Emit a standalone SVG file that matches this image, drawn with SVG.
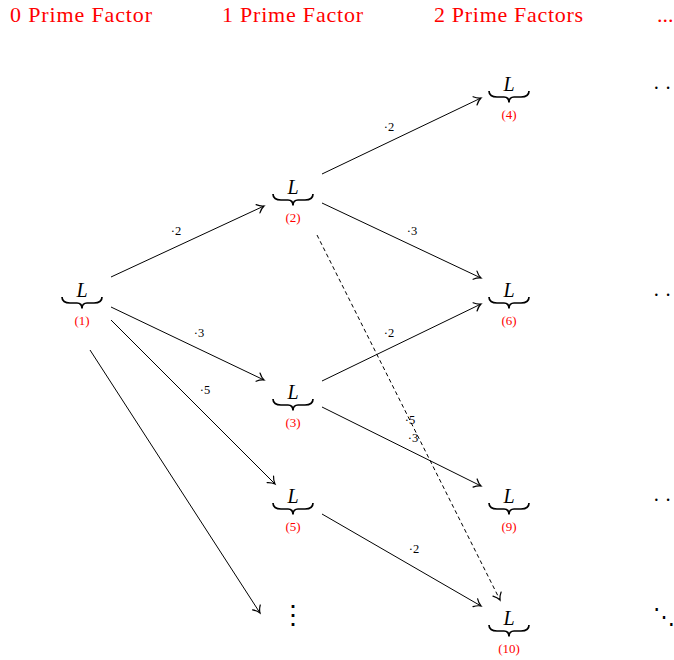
<svg xmlns="http://www.w3.org/2000/svg" width="674" height="660" viewBox="0 0 674 660">
<defs>
<marker id="arr" markerWidth="12" markerHeight="12" viewBox="-7 -5 9 10" refX="0" refY="0" orient="auto" markerUnits="userSpaceOnUse">
<path d="M-5.5,-3.8 C-3.5,-1.6 -1.2,-0.4 0,0 C-1.2,0.4 -3.5,1.6 -5.5,3.8" fill="none" stroke="#000" stroke-width="1" stroke-linecap="round"/>
</marker>
<path id="brace" d="M-20,-1 C-20,3 -17,5 -12,5 L-5,5 C-2,5 0,7 0,10.5 C0,7 2,5 5,5 L12,5 C17,5 20,3 20,-1" fill="none" stroke="#000" stroke-width="1.7"/>
</defs>
<style>
.hdr{font-family:"Liberation Serif","DejaVu Serif",serif;font-size:22px;fill:#ff0000}
.L{font-family:"Liberation Serif","DejaVu Serif",serif;font-style:italic;font-size:20px;fill:#000;text-anchor:middle}
.lab{font-family:"Liberation Serif","DejaVu Serif",serif;font-size:13px;fill:#ff0000;text-anchor:middle}
.el{font-family:"Liberation Serif","DejaVu Serif",serif;font-size:12.5px;fill:#000;text-anchor:middle}
.dots{font-family:"DejaVu Serif",serif;font-size:26px;fill:#000}
.hd{font-family:"Liberation Serif",serif;font-size:20px;fill:#000;letter-spacing:5px}
.e{stroke:#000;stroke-width:1;fill:none;marker-end:url(#arr)}
.d{stroke-dasharray:4 3}
</style>
<g id="headers">
<text class="hdr" x="10" y="22" textLength="142" lengthAdjust="spacing">0 Prime Factor</text>
<text class="hdr" x="222" y="22" textLength="141" lengthAdjust="spacing">1 Prime Factor</text>
<text class="hdr" x="434" y="22" textLength="149" lengthAdjust="spacing">2 Prime Factors</text>
<text class="hdr" x="657" y="22">...</text>
</g>
<g id="connectors">
<line class="e" x1="111" y1="277" x2="264" y2="206"/>
<line class="e" x1="111" y1="307" x2="264" y2="380"/>
<line class="e" x1="111" y1="320" x2="275" y2="484"/>
<line class="e" x1="90" y1="350" x2="260" y2="613"/>
<line class="e" x1="322" y1="174" x2="481" y2="98"/>
<line class="e" x1="322" y1="203" x2="481" y2="278"/>
<line class="e d" x1="317" y1="235" x2="500" y2="600"/>
<line class="e" x1="322" y1="381" x2="481" y2="304"/>
<line class="e" x1="322" y1="407" x2="481" y2="486"/>
<line class="e" x1="322" y1="514" x2="481" y2="606"/>
<text class="el" x="176" y="235">·2</text>
<text class="el" x="199" y="337">·3</text>
<text class="el" x="205" y="394">·5</text>
<text class="el" x="389" y="131">·2</text>
<text class="el" x="412" y="235">·3</text>
<text class="el" x="389" y="337">·2</text>
<text class="el" x="410" y="424">·5</text>
<text class="el" x="413" y="442">·3</text>
<text class="el" x="414" y="553">·2</text>
</g>
<g id="n1"><text class="L" x="82" y="297">L</text><use href="#brace" x="82" y="298"/><text class="lab" x="82" y="325">(1)</text></g>
<g id="n2"><text class="L" x="293" y="194">L</text><use href="#brace" x="293" y="195"/><text class="lab" x="293" y="222">(2)</text></g>
<g id="n3"><text class="L" x="293" y="399">L</text><use href="#brace" x="293" y="400"/><text class="lab" x="293" y="427">(3)</text></g>
<g id="n5"><text class="L" x="293" y="503">L</text><use href="#brace" x="293" y="504"/><text class="lab" x="293" y="531">(5)</text></g>
<g id="n4"><text class="L" x="509" y="91">L</text><use href="#brace" x="509" y="92"/><text class="lab" x="509" y="119">(4)</text></g>
<g id="n6"><text class="L" x="509" y="297">L</text><use href="#brace" x="509" y="298"/><text class="lab" x="509" y="325">(6)</text></g>
<g id="n9"><text class="L" x="509" y="503">L</text><use href="#brace" x="509" y="504"/><text class="lab" x="509" y="531">(9)</text></g>
<g id="n10"><text class="L" x="509" y="625">L</text><use href="#brace" x="509" y="626"/><text class="lab" x="509" y="653">(10)</text></g>
<g id="vdots"><text class="dots" x="293" y="624" text-anchor="middle">⋮</text></g>
<g id="hdots">
<text class="hd" x="653" y="95">···</text>
<text class="hd" x="653" y="302">···</text>
<text class="hd" x="653" y="507">···</text>
<text class="dots" x="653" y="624" style="font-size:22px">⋱</text>
</g>
</svg>
